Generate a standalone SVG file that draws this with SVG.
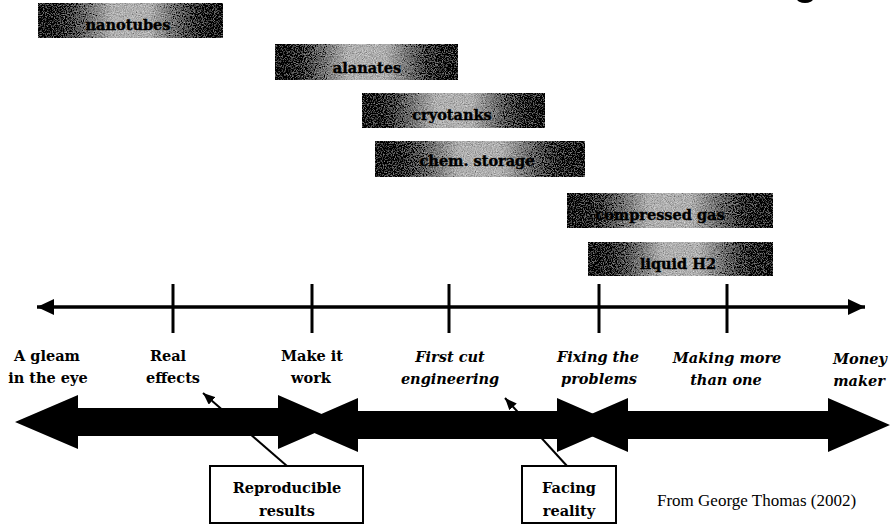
<svg xmlns="http://www.w3.org/2000/svg" width="892" height="524" viewBox="0 0 892 524">
  <style>
    .bar { fill: url(#barShade); filter: url(#grain); }
    .bartext { font-family: "DejaVu Serif", "Liberation Serif", serif; font-weight: bold; font-size: 14.5px; fill: #000; stroke: #000; stroke-width: 0.4; text-anchor: middle; }
    .stage { font-family: "DejaVu Serif", "Liberation Serif", serif; font-weight: bold; font-size: 14.5px; fill: #000; text-anchor: middle; }
    .it { font-style: italic; }
    .axis { stroke: #000; stroke-width: 3.5; fill: none; }
    .tick { stroke: #000; stroke-width: 3; }
    .phase { fill: #000; }
    .pointer { stroke: #000; stroke-width: 2; fill: none; marker-end: url(#tip); }
    .callout { fill: #fff; stroke: #000; stroke-width: 2; }
    .credit { font-family: "Liberation Serif", "Times New Roman", serif; font-size: 17px; fill: #000; }
  </style>
  <defs>
    <linearGradient id="barShade" x1="0" y1="0" x2="1" y2="0">
      <stop offset="0" stop-color="#000"/>
      <stop offset="0.1" stop-color="#222"/>
      <stop offset="0.4" stop-color="#b0b0b0"/>
      <stop offset="0.6" stop-color="#b0b0b0"/>
      <stop offset="0.9" stop-color="#222"/>
      <stop offset="1" stop-color="#000"/>
    </linearGradient>
    <!-- halftone-like speckle for the technology bars -->
    <filter id="grain" x="0" y="0" width="100%" height="100%">
      <feTurbulence type="fractalNoise" baseFrequency="0.9" numOctaves="2" seed="4" result="noise"/>
      <feColorMatrix in="noise" type="matrix" values="0.33 0.33 0.33 0 0  0.33 0.33 0.33 0 0  0.33 0.33 0.33 0 0  0 0 0 0 1" result="gray"/>
      <feComposite in="SourceGraphic" in2="gray" operator="arithmetic" k1="0" k2="1" k3="1.2" k4="-0.6" result="mix"/>
      <feComposite in="mix" in2="SourceAlpha" operator="in"/>
    </filter>
    <marker id="axisHead" markerUnits="userSpaceOnUse" markerWidth="18" markerHeight="16" refX="17" refY="8" orient="auto-start-reverse">
      <path d="M0,0 L17,8 L0,16 Z" fill="#000"/>
    </marker>
    <marker id="tip" markerUnits="userSpaceOnUse" markerWidth="13" markerHeight="10" refX="12" refY="5" orient="auto">
      <path d="M0,0 L12,5 L0,10 Z" fill="#000"/>
    </marker>
  </defs>

  <rect width="892" height="524" fill="#fff"/>
  <ellipse cx="805" cy="-1" rx="8" ry="4" fill="#000"/>

  <!-- technology bars -->
  <g id="bar-nanotubes">
    <rect class="bar" x="38" y="3" width="185" height="35"/>
    <text class="bartext" x="128" y="30">nanotubes</text>
  </g>
  <g id="bar-alanates">
    <rect class="bar" x="275" y="44" width="183" height="36"/>
    <text class="bartext" x="367" y="73">alanates</text>
  </g>
  <g id="bar-cryotanks">
    <rect class="bar" x="362" y="93" width="183" height="35"/>
    <text class="bartext" x="452" y="120">cryotanks</text>
  </g>
  <g id="bar-chem-storage">
    <rect class="bar" x="375" y="141" width="210" height="36"/>
    <text class="bartext" x="477" y="166">chem. storage</text>
  </g>
  <g id="bar-compressed-gas">
    <rect class="bar" x="567" y="193" width="206" height="35"/>
    <text class="bartext" x="660" y="220">compressed gas</text>
  </g>
  <g id="bar-liquid-h2">
    <rect class="bar" x="588" y="242" width="185" height="34"/>
    <text class="bartext" x="678" y="269">liquid H2</text>
  </g>

  <!-- timeline axis with stage ticks -->
  <g id="timeline">
    <line class="axis" x1="37" y1="307" x2="865" y2="307" marker-start="url(#axisHead)" marker-end="url(#axisHead)"/>
    <line class="tick" x1="173" y1="284" x2="173" y2="333"/>
    <line class="tick" x1="312" y1="284" x2="312" y2="333"/>
    <line class="tick" x1="449" y1="284" x2="449" y2="333"/>
    <line class="tick" x1="599" y1="284" x2="599" y2="333"/>
    <line class="tick" x1="727" y1="284" x2="727" y2="333"/>
  </g>

  <!-- stage labels -->
  <g id="stage-gleam">
    <text class="stage" x="47" y="361">A gleam</text>
    <text class="stage" x="48" y="383">in the eye</text>
  </g>
  <g id="stage-real">
    <text class="stage" x="168" y="361">Real</text>
    <text class="stage" x="173" y="383">effects</text>
  </g>
  <g id="stage-make">
    <text class="stage" x="312" y="361">Make it</text>
    <text class="stage" x="311" y="383">work</text>
  </g>
  <g id="stage-first-cut">
    <text class="stage it" x="450" y="362">First cut</text>
    <text class="stage it" x="450" y="384">engineering</text>
  </g>
  <g id="stage-fixing">
    <text class="stage it" x="598" y="362">Fixing the</text>
    <text class="stage it" x="599" y="384">problems</text>
  </g>
  <g id="stage-making-more">
    <text class="stage it" x="727" y="363">Making more</text>
    <text class="stage it" x="726" y="385">than one</text>
  </g>
  <g id="stage-money">
    <text class="stage it" x="860" y="364">Money</text>
    <text class="stage it" x="859" y="386">maker</text>
  </g>

  <!-- phase arrows -->
  <g id="phase-arrows">
    <polygon class="phase" points="15,422 78,395 78,408 278,408 278,395 340,422 278,449 278,436 78,436 78,449"/>
    <polygon class="phase" points="296,425 358,398 358,411 557,411 557,398 619,425 557,452 557,439 358,439 358,452"/>
    <polygon class="phase" points="566,425 628,398 628,411 828,411 828,398 890,425 828,452 828,439 628,439 628,452"/>
  </g>

  <!-- callout connectors -->
  <g id="connectors">
    <line class="pointer" x1="287" y1="466" x2="203" y2="393"/>
    <line class="pointer" x1="567" y1="466" x2="505" y2="398"/>
  </g>

  <!-- callout boxes -->
  <g id="callout-reproducible">
    <rect class="callout" x="210" y="466" width="153" height="57"/>
    <text class="stage" x="287" y="493">Reproducible</text>
    <text class="stage" x="287" y="516">results</text>
  </g>
  <g id="callout-facing">
    <rect class="callout" x="522" y="466" width="94" height="57"/>
    <text class="stage" x="569" y="493">Facing</text>
    <text class="stage" x="569" y="516">reality</text>
  </g>

  <text class="credit" x="657" y="506">From George Thomas (2002)</text>
</svg>
